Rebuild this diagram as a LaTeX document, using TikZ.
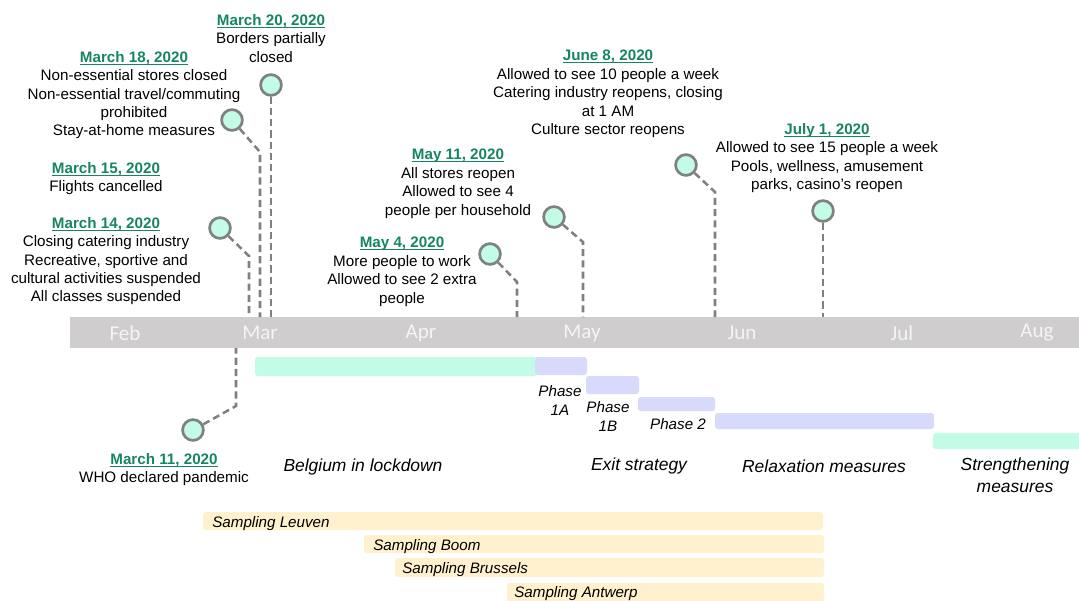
\documentclass[tikz,border=0pt]{standalone}
\usepackage{fontspec}
\setmainfont{Liberation Sans}
\newfontfamily\monthfont{Carlito}
\usepackage{tikz}

\definecolor{datecol}{RGB}{22,134,94}
\definecolor{mintcol}{RGB}{194,251,230}
\definecolor{lavcol}{RGB}{215,218,250}
\definecolor{sampcol}{RGB}{255,241,206}
\definecolor{axiscol}{RGB}{207,205,205}
\definecolor{monthtxt}{RGB}{245,245,245}
\definecolor{linecol}{RGB}{128,128,128}

\newcommand{\evdate}[1]{{\color{datecol}\bfseries\setbox0=\hbox{#1}\rlap{\rule[-1.8pt]{\wd0}{0.75pt}}\box0}}

\begin{document}
\begin{tikzpicture}[x=0.025cm, y=-0.025cm,
        every node/.style={inner sep=0pt},
        evtext/.style={align=center, anchor=north, font=\fontsize{10.8}{13.1}\selectfont},
        evdot/.style={circle, draw=linecol, fill=mintcol, line width=1.9pt, minimum size=0.52cm},
        evline/.style={draw=linecol, line width=1.8pt, dash pattern=on 5pt off 3pt},
        month/.style={font=\monthfont\fontsize{15}{18}\selectfont, text=monthtxt},
        period/.style={font=\fontsize{12.4}{15.6}\selectfont\itshape, align=center},
        phase/.style={font=\fontsize{10.8}{13.5}\selectfont\itshape, align=center},
        sampling/.style={font=\fontsize{10.8}{13}\selectfont\itshape, anchor=west}]
        \useasboundingbox (0,0) rectangle (1079,600);

        \fill[axiscol] (70,317) rectangle (1079,348);
        \node[month] (feb) at (125,333) {Feb};
        \node[month] (mar) at (260,333) {Mar};
        \node[month] (apr) at (421,333) {Apr};
        \node[month] (may) at (582,333) {May};
        \node[month] (jun) at (742,333) {Jun};
        \node[month] (jul) at (902,333) {Jul};
        \node[month] (aug) at (1037,333) {Aug};

        \node[evdot] (d11) at (193,430) {};
        \node[evdot] (d14) at (220,228) {};
        \node[evdot] (d18) at (232,120) {};
        \node[evdot] (d20) at (271,85) {};
        \node[evdot] (d4m) at (490,254) {};
        \node[evdot] (d11m) at (554,217) {};
        \node[evdot] (d8j) at (686,165) {};
        \node[evdot] (d1j) at (823,211) {};

        \coordinate (k11) at (236,406);
        \coordinate (a11) at (236,348);
        \coordinate (k14) at (249,256);
        \coordinate (a14) at (249,317);
        \coordinate (k18) at (260,152);
        \coordinate (a18) at (260,317);
        \coordinate (a20) at (271,317);
        \coordinate (k4m) at (517,282);
        \coordinate (a4m) at (517,317);
        \coordinate (k11m) at (583,242);
        \coordinate (a11m) at (583,317);
        \coordinate (k8j) at (715,192);
        \coordinate (a8j) at (715,317);
        \coordinate (a1j) at (823,317);

        \draw[evline] (d11) -- (k11) -- (a11);
        \draw[evline] (d14) -- (k14) -- (a14);
        \draw[evline] (d18) -- (k18) -- (a18);
        \draw[evline] (d20) -- (a20);
        \draw[evline] (d4m) -- (k4m) -- (a4m);
        \draw[evline] (d11m) -- (k11m) -- (a11m);
        \draw[evline] (d8j) -- (k8j) -- (a8j);
        \draw[evline] (d1j) -- (a1j);

        \node[evtext] (t20) at (271,14) {\evdate{March 20, 2020}\\Borders partially\\closed};
        \node[evtext] (t18) at (134,51) {\evdate{March 18, 2020}\\Non-essential stores closed\\Non-essential travel/commuting\\prohibited\\Stay-at-home measures};
        \node[evtext] (t15) at (106,162) {\evdate{March 15, 2020}\\Flights cancelled};
        \node[evtext] (t14) at (106,217) {\evdate{March 14, 2020}\\Closing catering industry\\Recreative, sportive and\\cultural activities suspended\\All classes suspended};
        \node[evtext] (t11) at (164,453) {\evdate{March 11, 2020}\\WHO declared pandemic};
        \node[evtext] (t4m) at (402,237) {\evdate{May 4, 2020}\\More people to work\\Allowed to see 2 extra\\people};
        \node[evtext] (t11m) at (458,149) {\evdate{May 11, 2020}\\All stores reopen\\Allowed to see 4\\people per household};
        \node[evtext] (t8j) at (608,50) {\evdate{June 8, 2020}\\Allowed to see 10 people a week\\Catering industry reopens, closing\\at 1 AM\\Culture sector reopens};
        \node[evtext] (t1j) at (827,123) {\evdate{July 1, 2020}\\Allowed to see 15 people a week\\Pools, wellness, amusement\\parks, casino's reopen};

        \fill[mintcol, rounded corners=2pt] (255,357) rectangle (537,376);
        \fill[lavcol, rounded corners=2pt] (535,357) rectangle (587,375);
        \fill[lavcol, rounded corners=2pt] (586,376) rectangle (639,394);
        \fill[lavcol, rounded corners=2pt] (638,397) rectangle (715,411);
        \fill[lavcol, rounded corners=2pt] (715,413) rectangle (934,429);
        \fill[mintcol, rounded corners=2pt] (933,433) rectangle (1085,449);

        \node[phase] (p1a) at (560,400) {Phase\\1A};
        \node[phase] (p1b) at (608,416) {Phase\\1B};
        \node[phase] (p2) at (678,424) {Phase 2};
        \node[period] (lock) at (363,467) {Belgium in lockdown};
        \node[period] (exit) at (639,466) {Exit strategy};
        \node[period] (relax) at (824,466) {Relaxation measures};
        \node[period] (strength) at (1015,475) {Strengthening\\measures};

        \fill[sampcol, rounded corners=2pt] (203,512) rectangle (823,530);
        \fill[sampcol, rounded corners=2pt] (364,535) rectangle (824,553);
        \fill[sampcol, rounded corners=2pt] (395,558) rectangle (824,577);
        \fill[sampcol, rounded corners=2pt] (507,583) rectangle (824,606);
        \node[sampling] (leuven) at (212,523.5) {Sampling Leuven};
        \node[sampling] (boom) at (373,546.5) {Sampling Boom};
        \node[sampling] (brussels) at (402,569.5) {Sampling Brussels};
        \node[sampling] (antwerp) at (514,594) {Sampling Antwerp};
\end{tikzpicture}
\end{document}
